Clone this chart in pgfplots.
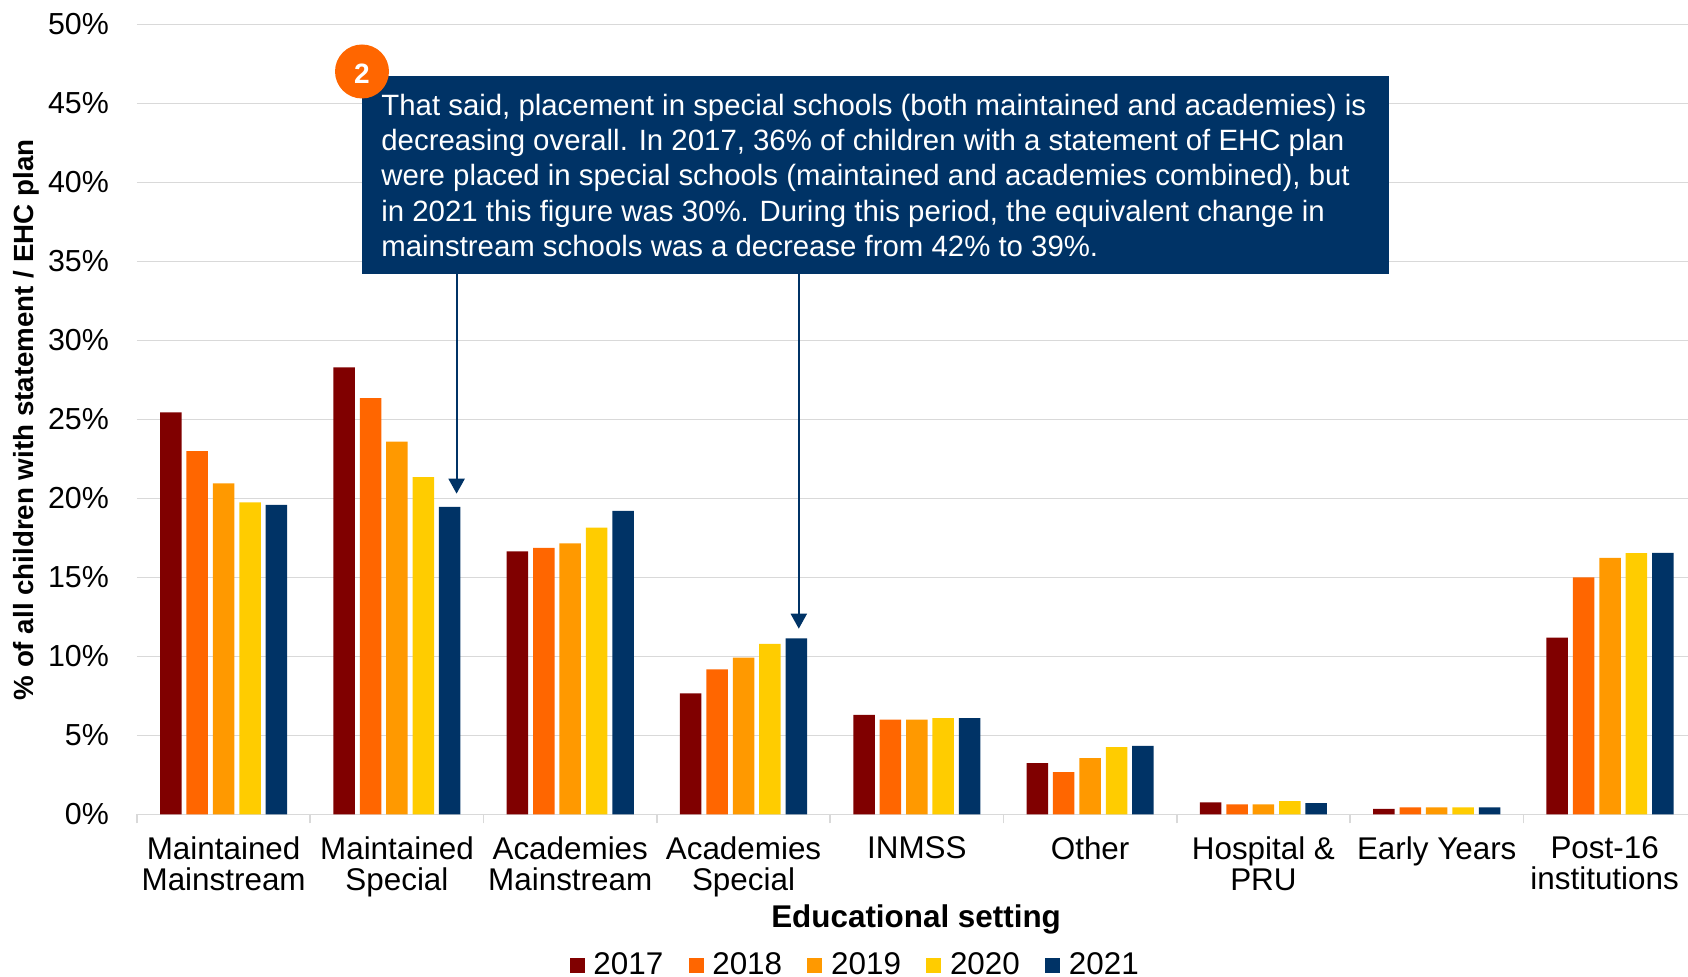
\documentclass[border=0pt]{standalone}
\usepackage{fontspec}
\setmainfont{Liberation Sans}
\usepackage{pgfplots}
\pgfplotsset{compat=1.18}
\usetikzlibrary{arrows.meta}
\definecolor{c2017}{HTML}{800000}
\definecolor{c2018}{HTML}{FF6600}
\definecolor{c2019}{HTML}{FF9900}
\definecolor{c2020}{HTML}{FFCC00}
\definecolor{c2021}{HTML}{003366}
\definecolor{gridgray}{HTML}{D9D9D9}
\begin{document}
\begin{tikzpicture}
% 1 px of the reference = 0.5pt, origin at the axis' lower left corner
\path[use as bounding box] (-68.5pt,-81.25pt) rectangle (775.5pt,407.25pt);
\begin{axis}[
  at={(0pt,0pt)}, anchor=south west,
  scale only axis, width=775.5pt, height=395pt,
  xmin=-0.5, xmax=8.45, ymin=0, ymax=50,
  ybar=2.45pt, bar width=10.75pt,
  axis x line*=bottom, axis y line*=left,
  x axis line style={draw=gridgray,line width=0.9pt,-},
  y axis line style={draw=none,-},
  tick align=outside,
  major tick length=0pt, minor tick length=4.5pt,
  tick style={draw=gridgray,line width=0.8pt},
  xtick={0,1,2,3,4,5,6,7,8},
  minor xtick={-0.5,0.5,1.5,2.5,3.5,4.5,5.5,6.5,7.5},
  xticklabels={Maintained\\Mainstream,Maintained\\Special,Academies\\Mainstream,Academies\\Special,INMSS,Other,Hospital \&\\PRU,Early Years,Post-16\hspace*{5.4pt}\\institutions\hspace*{5.4pt}},
  x tick label style={align=center,font=\fontsize{15.7}{15.6}\selectfont,yshift=-7.5pt},
  ytick={0,5,10,15,20,25,30,35,40,45,50},
  yticklabel={\pgfmathprintnumber{\tick}\%},
  y tick label style={font=\fontsize{15.2}{18}\selectfont,xshift=-10.5pt},
  /pgf/number format/assume math mode=true,
  ymajorgrids,
  grid style={draw=gridgray,line width=0.8pt},
  xlabel={Educational setting},
  xlabel style={font=\fontsize{15.7}{18}\bfseries\selectfont,at={(axis description cs:0.5023,-0.1325)},anchor=center},
  ylabel={\% of all children with statement / EHC plan},
  ylabel style={font=\fontsize{13.86}{18}\bfseries\selectfont,at={(axis description cs:-0.0716,0.4994)},anchor=center},
  legend columns=5,
  legend style={draw=none,fill=none,at={(axis description cs:0.4637,-0.1910)},anchor=center,
    font=\fontsize{15.7}{18}\selectfont,inner sep=0pt,
    /tikz/every even column/.style={column sep=10.6pt},
    /tikz/every odd column/.style={column sep=2.4pt}},
  legend image code/.code={\fill[#1] (0pt,-3.75pt) rectangle (7.5pt,3.75pt);},
]
\addplot[fill=c2017,draw=none] coordinates {(0,25.45)(1,28.3)(2,16.65)(3,7.67)(4,6.3)(5,3.25)(6,0.76)(7,0.36)(8,11.2)};
\addplot[fill=c2018,draw=none] coordinates {(0,23.0)(1,26.35)(2,16.87)(3,9.18)(4,6.0)(5,2.68)(6,0.64)(7,0.45)(8,15.0)};
\addplot[fill=c2019,draw=none] coordinates {(0,20.95)(1,23.6)(2,17.16)(3,9.93)(4,6.0)(5,3.57)(6,0.64)(7,0.45)(8,16.24)};
\addplot[fill=c2020,draw=none] coordinates {(0,19.76)(1,21.35)(2,18.16)(3,10.8)(4,6.1)(5,4.27)(6,0.85)(7,0.45)(8,16.54)};
\addplot[fill=c2021,draw=none] coordinates {(0,19.6)(1,19.47)(2,19.22)(3,11.15)(4,6.1)(5,4.35)(6,0.72)(7,0.45)(8,16.56)};
\legend{2017,2018,2019,2020,2021}
\end{axis}
% callout arrows
\draw[c2021,line width=1.1pt,-{Triangle[width=8pt,length=7.5pt]}] (159.8pt,275pt) -- (159.8pt,160.4pt);
\draw[c2021,line width=1.1pt,-{Triangle[width=8pt,length=7.5pt]}] (330.9pt,275pt) -- (330.9pt,92.9pt);
% callout box
\fill[c2021] (112.5pt,270.25pt) rectangle (626pt,369.25pt);
\node[anchor=north west,inner sep=0pt,align=left,text=white,font=\fontsize{14.69}{17.65}\selectfont]
  at (122pt,360.4pt) {That said, placement in special schools (both maintained and academies) is\\
decreasing overall. In 2017, 36\% of children with a statement of EHC plan\\
were placed in special schools (maintained and academies combined), but\\
in 2021 this figure was 30\%. During this period, the equivalent change in\\
mainstream schools was a decrease from 42\% to 39\%.};
\fill[c2018] (112.5pt,371.5pt) circle (13.5pt);
\node[text=white,font=\fontsize{14}{16}\bfseries\selectfont,inner sep=0pt] at (112.5pt,370.6pt) {2};
\end{tikzpicture}
\end{document}
